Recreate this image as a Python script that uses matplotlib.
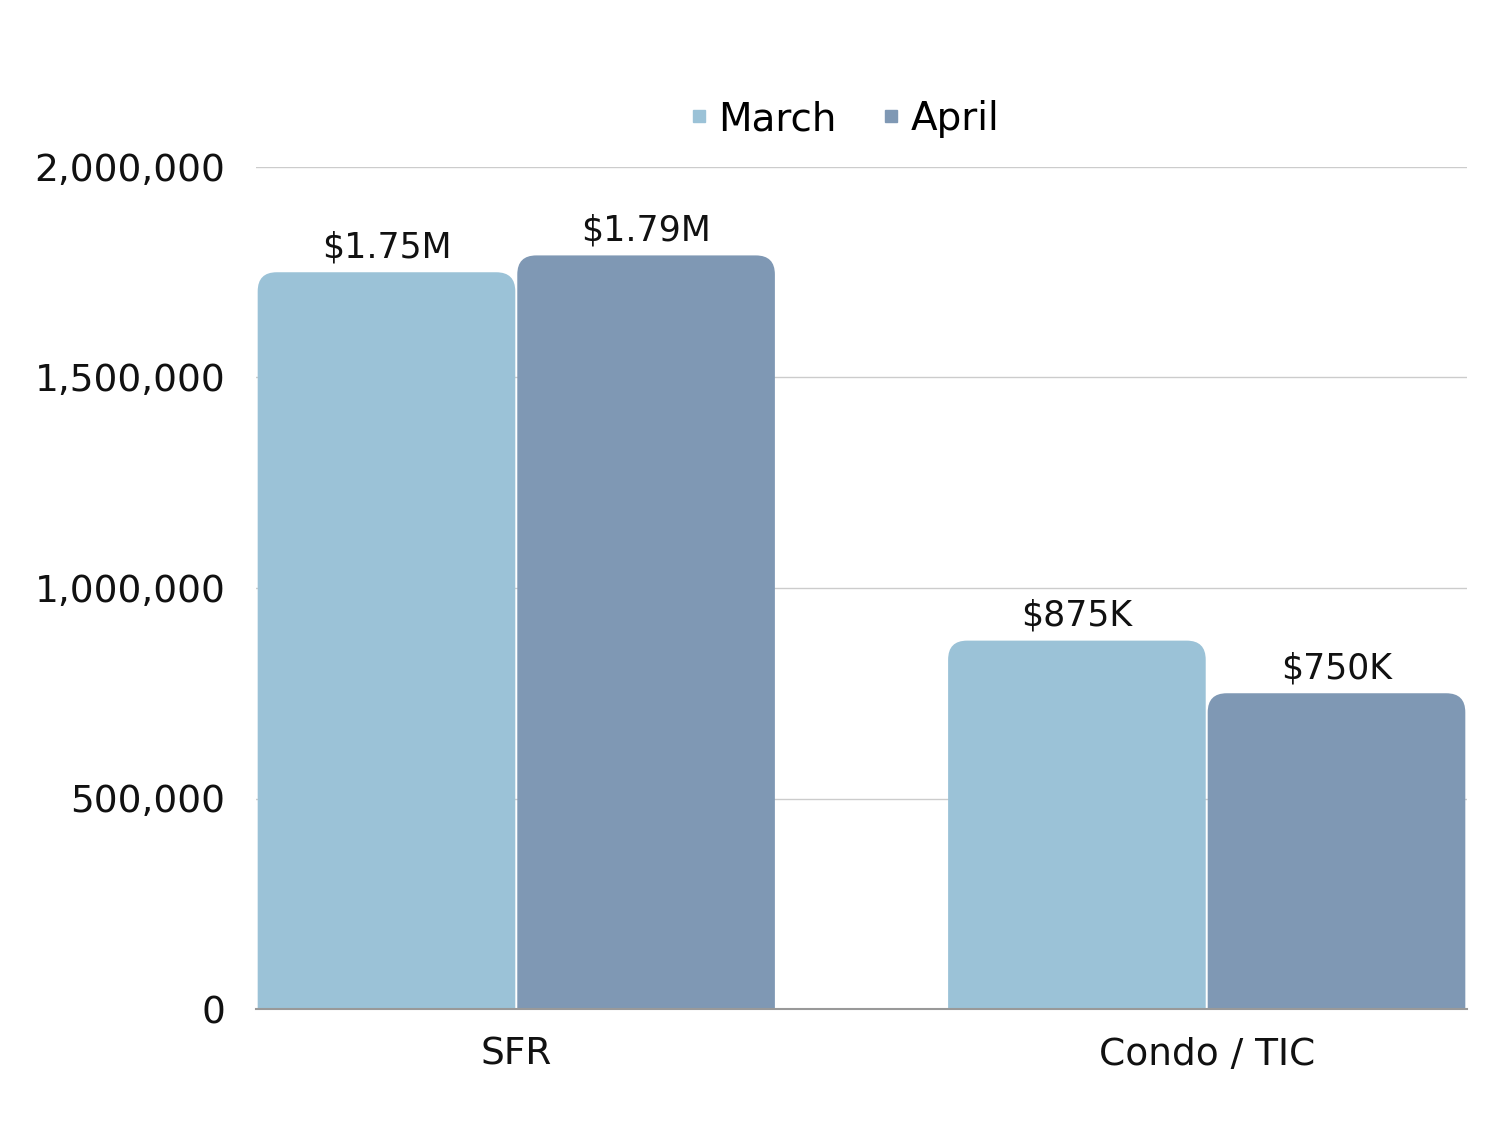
import matplotlib
matplotlib.use('Agg')
import matplotlib.pyplot as plt
from matplotlib.patches import FancyBboxPatch
from matplotlib.ticker import FuncFormatter
from matplotlib.lines import Line2D
import numpy as np

plt.rcParams['font.family'] = ['DejaVu Sans']

categories = ['SFR', 'Condo / TIC']
series = ['March', 'April']
march = [1750000, 875000]
april = [1790000, 750000]
labels_march = ['$1.75M', '$875K']
labels_april = ['$1.79M', '$750K']
colors = ['#9bc2d7', '#7f98b4']

fig = plt.figure(figsize=(15, 11.25), dpi=100)
ax = fig.add_axes([256/1500, 1 - 1009/1125, (1467-256)/1500, (1009-167)/1125])

x = np.arange(len(categories))
w = 0.376
ax.set_xlim(-w - 0.001, 1 + w + 0.001)
ax.set_ylim(0, 2000000)

# px -> data conversion for the round corners
rad_px = 19
xs = (1 + 2*w) / 1211
ys = 2000000 / 842
for vals, offs, col, lab in [(march, -w/2, colors[0], labels_march),
                             (april, w/2, colors[1], labels_april)]:
    bars = ax.bar(x + offs, vals, w, color=col, alpha=0)
    for b, t in zip(bars, lab):
        bx, bw, bh = b.get_x(), b.get_width(), b.get_height()
        pad = rad_px * xs
        p = FancyBboxPatch((bx + pad + 1*xs, -3*rad_px*ys), bw - 2*pad - 2*xs, bh + 2*rad_px*ys,
                           boxstyle='round,pad=%f,rounding_size=%f' % (pad, pad),
                           mutation_aspect=ys / xs, fc=col, ec='none', zorder=2)
        ax.add_patch(p)
        ax.text(bx + bw/2, bh + 15*ys, t, ha='center', va='baseline', fontsize=25, color='#111111')

ax.yaxis.set_major_formatter(FuncFormatter(lambda v, p: '{:,.0f}'.format(v)))
ax.set_yticks(np.arange(0, 2000001, 500000))
ax.set_xticks(x)
ax.set_xticklabels(categories)
ax.tick_params(axis='both', length=0, labelsize=27, colors='#111111')
ax.tick_params(axis='y', pad=22)
ax.tick_params(axis='x', pad=20)
ax.grid(axis='y', color='#cccccc', linewidth=1)
ax.set_axisbelow(True)
for s in ['top', 'right', 'left']:
    ax.spines[s].set_visible(False)
ax.spines['bottom'].set_color('#999999')
ax.spines['bottom'].set_linewidth(1.5)
ax.spines['bottom'].set_zorder(3)

handles = [Line2D([], [], marker='s', ls='none', color=c, markersize=9) for c in colors]
fig.legend(handles, series, loc='center', bbox_to_anchor=(0.561, 1 - 119/1125), ncol=2,
           frameon=False, fontsize=28, handletextpad=0.1, columnspacing=1.0, handlelength=0.8)

fig.savefig('out.png', dpi=100)
